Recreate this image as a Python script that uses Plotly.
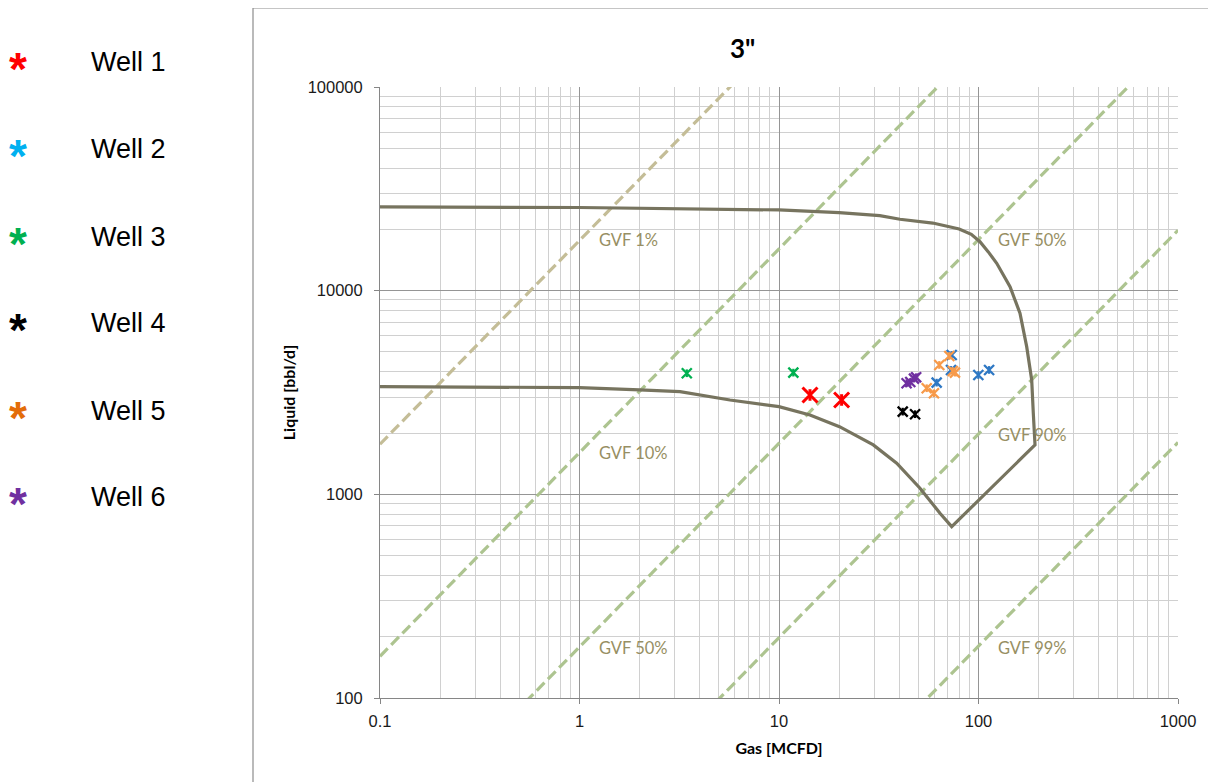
import plotly.graph_objects as go

# ---------------- data ----------------
x_tick_vals = [0.1, 1, 10, 100, 1000]
x_tick_text = ["0.1", "1", "10", "100", "1000"]
y_tick_vals = [100, 1000, 10000, 100000]
y_tick_text = ["100", "1000", "10000", "100000"]

well_names = ["Well 1", "Well 2", "Well 3", "Well 4", "Well 5", "Well 6"]
well_legend_colors = ["#ff0000", "#00b0f0", "#00b050", "#000000", "#e36c09", "#7030a0"]
well_marker_colors = ["#ff0000", "#2e78c4", "#00b050", "#000000", "#f79a4a", "#7030a0"]

well1_gas = [14.3, 20.6]
well1_liq = [3075, 2906]
well2_gas = [61.7, 72.8, 73.4, 99.8, 113]
well2_liq = [3535, 4081, 4834, 3855, 4081]
well3_gas = [3.45, 11.8]
well3_liq = [3931, 3959]
well4_gas = [41.7, 48.1]
well4_liq = [2547, 2474]
well5_gas = [55, 59.8, 63.6, 71.4, 74.3, 76.2]
well5_liq = [3319, 3135, 4317, 4778, 4030, 3958]
well6_gas = [43.6, 45.5, 47.5, 48.7]
well6_liq = [3510, 3560, 3700, 3760]

# operating envelope (upper curve -> right side -> lower curve)
env_gas = [0.1, 1, 10, 20, 32, 40.4, 59, 80, 92, 101.7, 112, 123.4, 143.9, 161.4, 174.4,
           184.8, 188.2, 192, 73.4, 64.1, 50.9, 38.9, 29.7, 20.1, 14.3, 10, 5.68,
           3.19, 2.0, 1.0, 0.1]
env_liq = [25760, 25600, 24900, 24150, 23340, 22410, 21480, 20100, 18900, 17400, 15500, 13630,
           10460, 7745, 5311, 3644, 2509, 1748, 694, 808, 1072, 1421, 1748, 2149,
           2454, 2695, 2906, 3192, 3254, 3341, 3380]

# GVF reference lines
gvf_values = [0.01, 0.10, 0.50, 0.90, 0.99]
BBL_PER_MCF = 178.1
gvf_line_gas = [0.1, 1000]

gvf_labels = ["GVF 1%", "GVF 10%", "GVF 50%", "GVF 50%", "GVF 90%", "GVF 99%"]

# ---------------- figure ----------------
fig = go.Figure()

for i, g in enumerate(gvf_values):
    k = BBL_PER_MCF * (1 - g) / g
    fig.add_trace(go.Scatter(
        x=gvf_line_gas, y=[v * k for v in gvf_line_gas], mode="lines",
        line=dict(color="#c4bd97" if i == 0 else "#adc490", width=3.2, dash="11px,5px"),
        showlegend=False, hoverinfo="skip"))

fig.add_trace(go.Scatter(
    x=env_gas, y=env_liq, mode="lines",
    line=dict(color="#77745f", width=3.2), showlegend=False, hoverinfo="skip"))

wells = [(well1_gas, well1_liq), (well2_gas, well2_liq), (well3_gas, well3_liq),
         (well4_gas, well4_liq), (well5_gas, well5_liq), (well6_gas, well6_liq)]
for i, (gx, ly) in enumerate(wells):
    size = 15 if i == 0 else 10
    lw = 3 if i == 0 else 2.3
    c = well_marker_colors[i]
    fig.add_trace(go.Scatter(
        x=gx, y=ly, mode="markers", name=well_names[i], showlegend=False,
        marker=dict(symbol="x-thin-open", size=size, color=c, line=dict(color=c, width=lw))))
    fig.add_trace(go.Scatter(
        x=gx, y=ly, mode="markers", showlegend=False, hoverinfo="skip",
        marker=dict(symbol="line-ns-open", size=size * 0.55, color=c, line=dict(color=c, width=lw))))

# page is offset by the 8px body margin, so the figure is 8px smaller on each axis
W, H = 1208, 774
L, R, T, B = 372, 38, 79, 84
pw, ph = W - L - R, H - T - B


def px(xp):
    return (xp - 380) / pw


def py(yp):
    return (698 - yp) / ph


annotations = []
# title
annotations.append(dict(text="<b>3\"</b>", x=px(742), y=py(48), xref="paper", yref="paper",
                        showarrow=False, font=dict(family="Lato, Liberation Sans", size=26, color="#000000"),
                        xanchor="center", yanchor="middle"))
# GVF labels
label_pos = [(597, 240), (597, 453), (597, 648), (996, 240), (996, 435), (996, 648)]
for t, (xp, yp) in zip(gvf_labels, label_pos):
    annotations.append(dict(text=t, x=px(xp), y=py(yp), xref="paper", yref="paper",
                            showarrow=False, xanchor="left", yanchor="middle",
                            font=dict(family="Lato, Open Sans", size=16.5, color="#978f63")))
# legend (left side)
leg_y = [62, 149, 237, 323, 411, 497]
for name, col, yp in zip(well_names, well_legend_colors, leg_y):
    annotations.append(dict(text="<b>*</b>", x=px(18), y=py(yp + 7), xref="paper", yref="paper",
                            showarrow=False, xanchor="center", yanchor="middle",
                            font=dict(family="Liberation Sans, Arial", size=46, color=col)))
    annotations.append(dict(text=name, x=px(89), y=py(yp), xref="paper", yref="paper",
                            showarrow=False, xanchor="left", yanchor="middle",
                            font=dict(family="Liberation Sans, Arial", size=27, color="#000000")))

shapes = [
    dict(type="line", xref="paper", yref="paper", x0=px(253), x1=px(253), y0=py(8), y1=py(800),
         line=dict(color="#8c8c8c", width=1.2)),
    dict(type="line", xref="paper", yref="paper", x0=px(253), x1=px(1230), y0=py(8), y1=py(8),
         line=dict(color="#8c8c8c", width=1.2)),
]

axis_common = dict(
    type="log", showline=True, linecolor="#868686", linewidth=1,
    ticks="outside", ticklen=5, tickcolor="#868686",
    showgrid=True, gridcolor="#959595", gridwidth=1, zeroline=False,
    tickfont=dict(family="Liberation Sans, Arial", size=16.5, color="#1a1a1a"),
    minor=dict(dtick="D1", showgrid=True, gridcolor="#d0d0d0", gridwidth=1, ticks=""),
)

fig.update_layout(
    width=W, height=H,
    margin=dict(l=L, r=R, t=T, b=B),
    paper_bgcolor="white", plot_bgcolor="white",
    showlegend=False,
    annotations=annotations, shapes=shapes,
    xaxis=dict(axis_common, range=[-1, 3], tickvals=x_tick_vals, ticktext=x_tick_text,
               ticklabelstandoff=3,
               title=dict(text="<b>Gas [MCFD]</b>", standoff=14,
                          font=dict(family="Lato, Open Sans", size=16, color="#000000"))),
    yaxis=dict(axis_common, range=[2, 5], tickvals=y_tick_vals, ticktext=y_tick_text,
               ticklabelstandoff=8,
               title=dict(text="<b>Liquid [bbl/d]</b>", standoff=8,
                          font=dict(family="Lato, Open Sans", size=16, color="#000000"))),
)

fig.write_html("out.html")
